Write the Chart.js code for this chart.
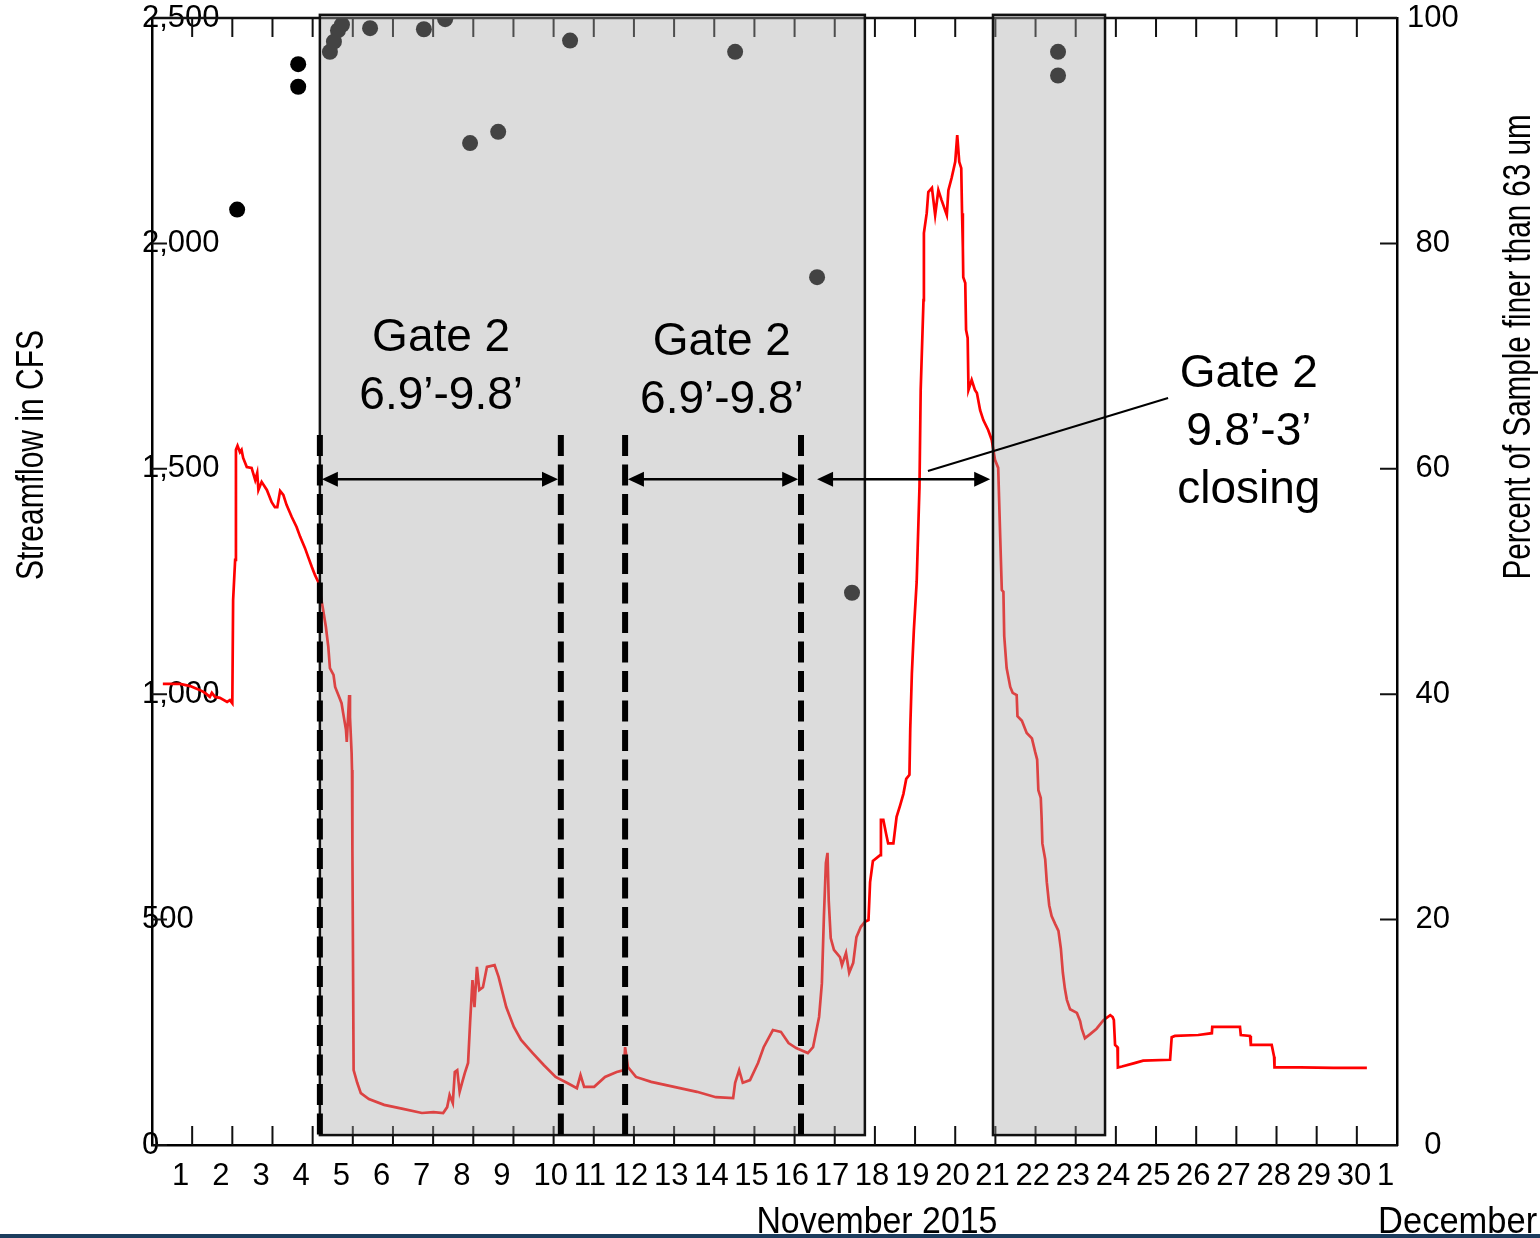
<!DOCTYPE html>
<html>
<head>
<meta charset="utf-8">
<title>Streamflow and percent fines, November 2015</title>
<script src="https://cdn.jsdelivr.net/npm/chart.js@4/dist/chart.umd.min.js"></script>
<style>
    html, body { margin: 0; padding: 0; background: #fff; }
    #wrap { position: relative; width: 1540px; height: 1238px; }
    #bar { position: absolute; left: 0; right: 0; bottom: 0; height: 4px; background: #1c3d5e; }
</style>
</head>
<body>
<div id="wrap"><canvas id="chart"></canvas><div id="bar"></div></div>
<script>
// x values are days since Nov 1 00:00
const dayLabels = ['1','2','3','4','5','6','7','8','9','10','11','12','13','14','15','16',
    '17','18','19','20','21','22','23','24','25','26','27','28','29','30','1'];

// streamflow, cfs (left axis)
const flowDay = [0.27,0.70,0.95,1.20,1.32,1.44,1.49,1.57,1.69,1.87,1.94,2.00,2.02,2.07,2.09,2.13,
    2.19,2.23,2.27,2.36,2.48,2.57,2.62,2.65,2.73,2.86,2.98,3.06,3.12,3.19,3.27,3.35,3.48,3.60,3.69,
    3.81,3.89,3.98,4.06,4.14,4.25,4.33,4.39,4.43,4.52,4.56,4.66,4.72,4.76,4.83,4.85,4.91,4.93,4.97,
    4.98,4.99,5.02,5.11,5.20,5.40,5.78,6.25,6.72,7.01,7.25,7.35,7.41,7.49,7.54,7.60,7.66,7.72,7.79,
    7.87,7.92,7.98,8.03,8.09,8.15,8.24,8.34,8.53,8.63,8.82,9.01,9.19,9.48,9.76,10.05,10.33,10.58,
    10.67,10.76,11.01,11.28,11.57,11.75,11.78,11.85,12.05,12.43,13.00,13.57,14.04,14.47,14.52,14.62,
    14.71,14.89,15.09,15.23,15.46,15.66,15.85,16.04,16.33,16.46,16.61,16.68,16.73,16.78,16.82,16.85,
    16.90,16.98,17.13,17.18,17.28,17.36,17.46,17.54,17.65,17.75,17.84,17.88,17.95,18.13,18.15,18.21,
    18.28,18.33,18.46,18.54,18.63,18.71,18.78,18.86,18.88,18.92,18.97,19.04,19.11,19.14,19.21,19.22,
    19.29,19.33,19.42,19.50,19.58,19.66,19.79,19.83,19.91,20.00,20.05,20.10,20.15,20.17,20.19,20.20,
    20.25,20.27,20.31,20.33,20.41,20.49,20.54,20.62,20.70,20.82,20.91,20.99,21.07,21.12,21.16,21.20,
    21.22,21.28,21.37,21.43,21.53,21.55,21.66,21.78,21.91,21.99,22.04,22.07,22.13,22.15,22.17,22.24,
    22.28,22.34,22.40,22.49,22.57,22.63,22.68,22.73,22.78,22.86,23.03,23.11,23.15,23.23,23.36,23.52,
    23.69,23.86,23.92,23.95,23.98,24.04,24.05,24.15,24.44,24.68,25.35,25.39,25.47,26.05,26.39,26.40,
    27.09,27.11,27.34,27.36,27.88,27.94,27.95,28.59,29.42,30.25];
const flowCfs = [1023,1023,1018,1009,1003,994,1003,994,992,983,987,980,1209,1298,1542,1551,
    1537,1542,1524,1504,1502,1475,1491,1453,1471,1453,1426,1415,1415,1451,1442,1420,1393,1371,1349,
    1324,1304,1282,1264,1249,1193,1149,1105,1058,1043,1016,994,980,958,921,894,998,949,870,
    832,654,166,138,115,102,89,80,71,73,71,84,111,93,162,166,118,138,160,
    182,271,366,306,395,344,350,395,399,373,306,262,233,204,177,151,138,126,
    155,129,129,151,162,166,217,173,151,140,129,118,106,104,138,166,
    138,144,182,217,255,251,226,215,204,217,284,359,506,626,648,543,
    459,433,417,399,426,382,404,461,484,495,499,583,630,643,721,721,
    690,669,669,728,754,779,812,821,923,1045,1142,1249,1460,1675,1874,2023,
    2067,2114,2123,2063,2118,2096,2063,2118,2145,2181,2240,2181,2167,2067,1992,1925,
    1912,1808,1790,1675,1697,1675,1668,1630,1608,1586,1564,1520,1502,1349,1231,1227,
    1129,1058,1016,1003,998,951,941,914,902,872,855,787,770,728,669,634,
    583,532,508,490,475,436,382,347,322,301,293,275,258,237,246,258,
    277,288,284,277,222,217,172,174,181,187,189,239,242,244,248,262,
    262,244,242,222,222,196,172,172,171,171];

// samples, percent finer than 63 um (right axis)
const sampleDay = [2.12,3.64,3.64,4.43,4.53,4.63,4.73,5.43,6.77,7.30,7.92,8.62,10.41,14.52,16.56,17.43,22.56,22.56];
const samplePct = [83.0,95.9,93.9,97.0,97.9,98.9,99.4,99.1,99.0,99.9,88.9,89.9,98.0,97.0,77.0,49.0,97.0,94.9];

// shaded periods and gate-change markers (days)
const shadeStart = [4.18, 20.94];
const shadeEnd = [17.75, 23.73];
const gateLines = [4.18, 10.18, 11.78, 16.16];
const arrowFrom = [4.23, 11.85, 16.56];
const arrowTo = [10.11, 16.09, 20.87];

// notes: text lines, anchor day, first-line cfs
const noteLines = [['Gate 2', '6.9\u2019-9.8\u2019'], ['Gate 2', '6.9\u2019-9.8\u2019'], ['Gate 2', '9.8\u2019-3\u2019', 'closing']];
const noteDay = [7.20, 14.19, 27.31];
const noteCfs = [1790, 1781, 1710];
const leaderDay = [19.32, 25.30];
const leaderCfs = [1495, 1657];

const SANS = '"Liberation Sans", Arial, sans-serif';

function arrowHead(ctx, x, y, dir) {
    ctx.beginPath();
    ctx.moveTo(x, y);
    ctx.lineTo(x - dir * 16, y - 7.5);
    ctx.lineTo(x - dir * 16, y + 7.5);
    ctx.closePath();
    ctx.fill();
}

// draws text squeezed to a given width, to mimic the condensed face of the original
function condensedText(ctx, text, width) {
    const w = ctx.measureText(text).width;
    ctx.save();
    ctx.scale(width / w, 1);
    ctx.fillText(text, 0, 0);
    ctx.restore();
}

const decor = {
    id: 'decor',
    beforeDatasetsDraw(chart) {
        const { ctx, chartArea: a, scales: { x, y, y2 } } = chart;
        ctx.save();
        ctx.strokeStyle = '#111';
        ctx.lineWidth = 2.5;
        ctx.beginPath();
        ctx.moveTo(a.left, a.top);
        ctx.lineTo(a.right, a.top);
        ctx.stroke();
        // inward tick marks
        ctx.lineWidth = 2;
        ctx.beginPath();
        for (let i = 1; i < dayLabels.length; i++) {
            const px = x.getPixelForValue(i);
            ctx.moveTo(px, a.top); ctx.lineTo(px, a.top + 19);
            ctx.moveTo(px, a.bottom); ctx.lineTo(px, a.bottom - 19);
        }
        y.ticks.forEach(t => {
            const py = y.getPixelForValue(t.value);
            ctx.moveTo(a.left, py); ctx.lineTo(a.left + 15, py);
        });
        y2.ticks.forEach(t => {
            const py = y2.getPixelForValue(t.value);
            ctx.moveTo(a.right, py); ctx.lineTo(a.right - 17, py);
        });
        ctx.stroke();
        ctx.restore();
    },
    afterDatasetsDraw(chart) {
        const { ctx, scales: { x, y } } = chart;
        ctx.save();
        const top = y.getPixelForValue(2507), bot = y.getPixelForValue(22);
        shadeStart.forEach((s, i) => {
            const l = x.getPixelForValue(s), r = x.getPixelForValue(shadeEnd[i]);
            ctx.fillStyle = 'rgba(168,168,168,0.4)';
            ctx.fillRect(l, top, r - l, bot - top);
            ctx.strokeStyle = '#111';
            ctx.lineWidth = 2.5;
            ctx.strokeRect(l, top, r - l, bot - top);
        });
        ctx.strokeStyle = '#000';
        ctx.lineWidth = 6;
        ctx.setLineDash([21, 8.5]);
        gateLines.forEach(d => {
            const px = x.getPixelForValue(d);
            ctx.beginPath();
            ctx.moveTo(px, y.getPixelForValue(1575));
            ctx.lineTo(px, bot);
            ctx.stroke();
        });
        ctx.setLineDash([]);
        // double arrows
        ctx.fillStyle = '#000';
        ctx.lineWidth = 2.5;
        const ay = y.getPixelForValue(1477);
        arrowFrom.forEach((d, i) => {
            const l = x.getPixelForValue(d), r = x.getPixelForValue(arrowTo[i]);
            ctx.beginPath();
            ctx.moveTo(l + 10, ay); ctx.lineTo(r - 10, ay);
            ctx.stroke();
            arrowHead(ctx, l, ay, -1);
            arrowHead(ctx, r, ay, 1);
        });
        ctx.lineWidth = 2;
        ctx.beginPath();
        ctx.moveTo(x.getPixelForValue(leaderDay[0]), y.getPixelForValue(leaderCfs[0]));
        ctx.lineTo(x.getPixelForValue(leaderDay[1]), y.getPixelForValue(leaderCfs[1]));
        ctx.stroke();
        // gate notes
        ctx.font = '46px ' + SANS;
        ctx.textAlign = 'center';
        ctx.textBaseline = 'middle';
        noteLines.forEach((lines, i) => {
            const px = x.getPixelForValue(noteDay[i]);
            const py = y.getPixelForValue(noteCfs[i]);
            lines.forEach((t, k) => ctx.fillText(t, px, py + k * 58));
        });
        ctx.restore();
    },
    afterDraw(chart) {
        const { ctx, scales: { x } } = chart;
        ctx.save();
        ctx.fillStyle = '#000';
        ctx.font = '38px ' + SANS;
        ctx.textBaseline = 'alphabetic';
        ctx.textAlign = 'center';
        ctx.translate(43, 455);
        ctx.rotate(-Math.PI / 2);
        condensedText(ctx, 'Streamflow in CFS', 250);
        ctx.setTransform(1, 0, 0, 1, 0, 0);
        ctx.translate(1530, 347);
        ctx.rotate(-Math.PI / 2);
        condensedText(ctx, 'Percent of Sample finer than 63 um', 465);
        ctx.setTransform(1, 0, 0, 1, 0, 0);
        ctx.font = '36px ' + SANS;
        ctx.translate(x.getPixelForValue(18.05), 1233);
        condensedText(ctx, 'November 2015', 241);
        ctx.setTransform(1, 0, 0, 1, 0, 0);
        ctx.textAlign = 'left';
        ctx.translate(x.getPixelForValue(30.53), 1233);
        condensedText(ctx, 'December', 159);
        ctx.restore();
    }
};

new Chart(document.getElementById('chart'), {
    type: 'scatter',
    data: {
        datasets: [{
            type: 'scatter',
            label: 'Percent finer than 63 um',
            data: sampleDay.map((d, i) => ({ x: d, y: samplePct[i] })),
            yAxisID: 'y2',
            backgroundColor: '#000',
            borderWidth: 0,
            pointRadius: 8,
            clip: 0
        }, {
            type: 'line',
            label: 'Streamflow',
            data: flowDay.map((d, i) => ({ x: d, y: flowCfs[i] })),
            yAxisID: 'y',
            borderColor: '#ff0000',
            borderWidth: 2.7,
            pointRadius: 0,
            tension: 0,
            fill: false
        }]
    },
    options: {
        responsive: true,
        maintainAspectRatio: false,
        animation: false,
        events: [],
        layout: { padding: { left: 142, right: 0, top: 18, bottom: 0 } },
        plugins: { legend: { display: false }, tooltip: { enabled: false } },
        scales: {
            x: {
                type: 'linear', position: 'bottom', min: 0, max: 31,
                afterBuildTicks: s => { s.ticks = dayLabels.map((_, i) => ({ value: i + 0.5 })); },
                afterFit: s => { s.height = 93; s.paddingLeft = 0; s.paddingRight = 0; },
                grid: { display: false, drawTicks: false },
                border: { display: true, color: '#000', width: 2.5 },
                ticks: {
                    align: 'start', autoSkip: false, maxRotation: 0, padding: 13, color: '#000',
                    font: { family: SANS, size: 31 },
                    callback: (v, i) => dayLabels[i]
                }
            },
            y: {
                type: 'linear', position: 'left', min: 0, max: 2500,
                afterFit: s => { s.width = 10; s.paddingTop = 0; s.paddingBottom = 0; },
                grid: { display: false, drawTicks: false },
                border: { display: true, color: '#000', width: 2.5 },
                ticks: {
                    stepSize: 500, mirror: true, crossAlign: 'near', padding: -10, color: '#000',
                    font: { family: SANS, size: 31 },
                    callback: v => v.toLocaleString('en-US')
                }
            },
            y2: {
                type: 'linear', position: 'right', min: 0, max: 100,
                afterFit: s => { s.width = 143; s.paddingTop = 0; s.paddingBottom = 0; },
                grid: { display: false, drawTicks: false },
                border: { display: true, color: '#000', width: 2.5 },
                ticks: {
                    stepSize: 20, crossAlign: 'center', padding: 10, color: '#000',
                    font: { family: SANS, size: 31 }
                }
            }
        }
    },
    plugins: [decor]
});
</script>
</body>
</html>
